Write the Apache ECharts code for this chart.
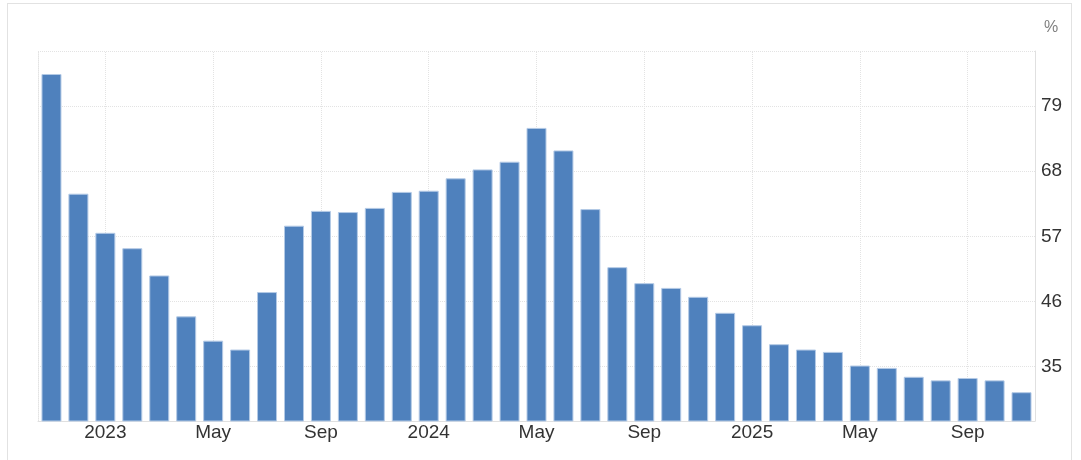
<!DOCTYPE html>
<html>
<head>
<meta charset="utf-8">
<script src="https://cdn.jsdelivr.net/npm/echarts@6/dist/echarts.min.js"></script>
<style>
  html, body { margin: 0; padding: 0; background: #fff; }
  #frame { position: absolute; left: 7px; top: 3px; width: 1065px; height: 520px; border: 1px solid #e2e2e2; box-sizing: border-box; }
  #chart { position: absolute; left: 0; top: 0; width: 1081px; height: 460px; }
</style>
</head>
<body>
<div id="frame"></div>
<div id="chart"></div>
<script>
// Months, Nov 2022 .. Nov 2025
const categories = [
  'Nov 2022','Dec 2022',
  'Jan 2023','Feb 2023','Mar 2023','Apr 2023','May 2023','Jun 2023','Jul 2023','Aug 2023','Sep 2023','Oct 2023','Nov 2023','Dec 2023',
  'Jan 2024','Feb 2024','Mar 2024','Apr 2024','May 2024','Jun 2024','Jul 2024','Aug 2024','Sep 2024','Oct 2024','Nov 2024','Dec 2024',
  'Jan 2025','Feb 2025','Mar 2025','Apr 2025','May 2025','Jun 2025','Jul 2025','Aug 2025','Sep 2025','Oct 2025','Nov 2025'
];
const values = [
  84.4, 64.2,
  57.6, 55.0, 50.4, 43.5, 39.4, 37.9, 47.6, 58.8, 61.3, 61.1, 61.8, 64.5,
  64.7, 66.8, 68.3, 69.6, 75.3, 71.5, 61.6, 51.8, 49.1, 48.3, 46.8, 44.1,
  42.0, 38.8, 37.9, 37.5, 35.2, 34.8, 33.3, 32.7, 33.1, 32.7, 30.7
];
const yTicks = [35, 46, 57, 68, 79];
const yMin = 25.84;
const yMax = 88.28;
const unitLabel = '%';

function isLabelIdx(i) { return i % 4 === 2; }
function fmtCat(v) {
  const [m, y] = v.split(' ');
  return m === 'Jan' ? y : m;
}

const gridColor = '#e3e3e3';
const vLines = categories.map((c, i) => isLabelIdx(i) ? { xAxis: c } : null).filter(Boolean);

const chart = echarts.init(document.getElementById('chart'), null, { renderer: 'canvas' });
chart.setOption({
  animation: false,
  grid: { left: 38, right: 46, top: 51, bottom: 39, containLabel: false },
  xAxis: {
    type: 'category',
    data: categories,
    boundaryGap: true,
    axisLine: { show: true, lineStyle: { color: '#e0e0e0', width: 1 } },
    axisTick: { show: false },
    splitLine: { show: false },
    axisLabel: {
      interval: (i) => isLabelIdx(i),
      formatter: fmtCat,
      color: '#333',
      fontFamily: 'Liberation Sans, Arial, sans-serif',
      fontSize: 19,
      margin: 2
    }
  },
  yAxis: [{
    type: 'value',
    position: 'right',
    min: yMin,
    max: yMax,
    name: unitLabel,
    nameLocation: 'end',
    nameGap: 15,
    nameTextStyle: { color: '#808080', fontSize: 16, fontFamily: 'Liberation Sans, Arial, sans-serif', align: 'left', padding: [0, 0, 0, 9] },
    axisLine: { show: true, lineStyle: { color: '#e0e0e0', width: 1 } },
    axisTick: { show: false, customValues: yTicks.concat([yMax]) },
    splitLine: { show: true, lineStyle: { color: gridColor, type: 'dotted', width: 1 } },
    axisLabel: {
      customValues: yTicks,
      color: '#333',
      fontFamily: 'Liberation Sans, Arial, sans-serif',
      fontSize: 19,
      margin: 6,
      align: 'left'
    }
  }, {
    type: 'value',
    position: 'left',
    min: yMin,
    max: yMax,
    axisLine: { show: true, lineStyle: { color: gridColor, type: 'dotted', width: 1 } },
    axisTick: { show: false },
    axisLabel: { show: false },
    splitLine: { show: false }
  }],
  series: [{
    type: 'bar',
    yAxisIndex: 0,
    data: values,
    barWidth: 20,
    itemStyle: { color: '#4f81bd', borderColor: '#b4cae6', borderWidth: 1 },
    markLine: {
      silent: true,
      symbol: ['none', 'none'],
      label: { show: false },
      lineStyle: { color: gridColor, type: 'dotted', width: 1 },
      emphasis: { disabled: true },
      data: vLines,
      z: 0
    },
    z: 2
  }]
});
</script>
</body>
</html>
